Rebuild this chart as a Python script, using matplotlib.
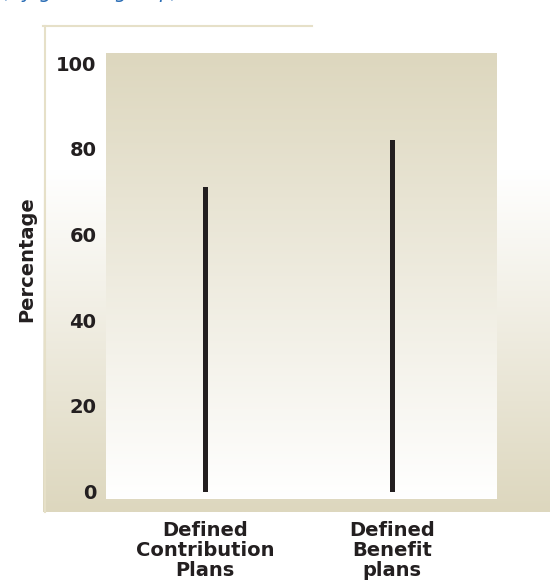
import numpy as np
import matplotlib
matplotlib.use("Agg")
import matplotlib.pyplot as plt
from matplotlib.lines import Line2D

# Data
categories = ["Defined\nContribution\nPlans", "Defined\nBenefit\nplans"]
values = [71, 82]
yticks = [0, 20, 40, 60, 80, 100]
ylabel = "Percentage"

W, H = 550, 588
fig = plt.figure(figsize=(W / 100, H / 100), dpi=100)
fig.patch.set_facecolor("white")

beige = np.array([221, 215, 190]) / 255
white = np.array([1.0, 1.0, 1.0])
ink = "#231f20"
font = "DejaVu Sans"

def fx(px):
    return px / W

def fy(py):
    return 1 - py / H

# Outer panel: white at the top, fading to beige toward the bottom
ox0, ox1, oy0, oy1 = 43, 560, 26, 512
bg = fig.add_axes([fx(ox0), fy(oy1), fx(ox1 - ox0), (oy1 - oy0) / H], zorder=0)
n = 400
t = np.linspace(0, 1, n)  # 0 = top, 1 = bottom
start = (170 - oy0) / (oy1 - oy0)
mix = np.clip((t - start) / (1 - start), 0, 1)
rows = white[None, :] * (1 - mix[:, None]) + beige[None, :] * mix[:, None]
bg.imshow(rows[:, None, :], aspect="auto", extent=[0, 1, 0, 1], interpolation="bilinear")
bg.set_axis_off()

# Thin border lines of the outer panel
border = "#e6e0c8"
fig.add_artist(Line2D([fx(43), fx(312)], [fy(26), fy(26)], color=border, lw=1.5, zorder=1))
fig.add_artist(Line2D([fx(44.5), fx(44.5)], [fy(26), fy(512)], color=border, lw=1.5, zorder=1))

# Inner plotting area: beige at the top fading to white at the bottom
ix0, ix1, iy0, iy1 = 106, 497, 53, 499
ax = fig.add_axes([fx(ix0), fy(iy1), fx(ix1 - ix0), (iy1 - iy0) / H], zorder=2)
ymin, ymax = -1.75, 102.4
xmin, xmax = -0.53, 1.56
inner = beige[None, :] * (1 - t[:, None]) + white[None, :] * t[:, None]
ax.imshow(inner[:, None, :], aspect="auto", extent=[xmin, xmax, ymin, ymax],
          interpolation="bilinear", zorder=0)

x = np.arange(len(categories))
ax.bar(x, values, width=0.028, color=ink, zorder=2)

ax.set_xlim(xmin, xmax)
ax.set_ylim(ymin, ymax)
ax.set_yticks(yticks)
ax.set_yticklabels([str(v) for v in yticks], fontsize=14, fontweight="bold",
                   color=ink, family=font)
ax.set_xticks(x)
ax.set_xticklabels(categories, fontsize=14, fontweight="bold", color=ink,
                   family=font, linespacing=1.05)
ax.tick_params(axis="y", length=0, pad=7)
ax.tick_params(axis="x", length=0, pad=16)
for s in ax.spines.values():
    s.set_visible(False)

fig.text(fx(27), fy(259), ylabel, rotation=90, ha="center", va="center",
         fontsize=14, fontweight="bold", color=ink, family=font)

# Title line above the chart, running off the top of the canvas
fig.text(fx(2), fy(1.5), "(by gender group)", ha="left", va="bottom",
         fontsize=14, color="#2a6db5", family=font, style="italic")

fig.savefig("out.png", dpi=100)
